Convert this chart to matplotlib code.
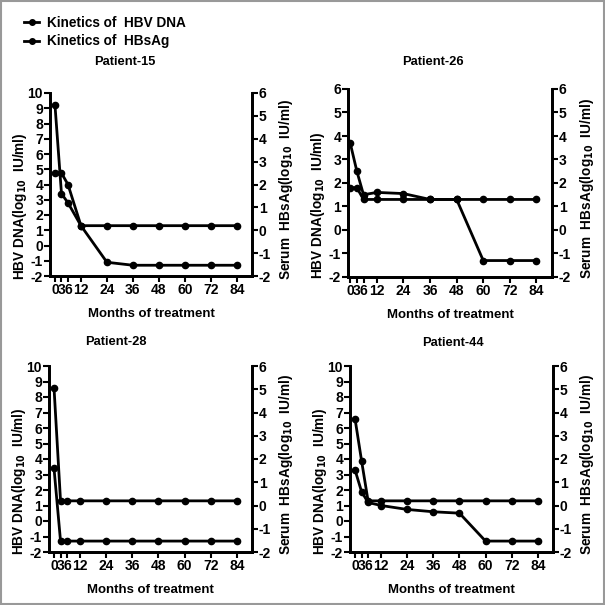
import numpy as np
import matplotlib.pyplot as plt
from matplotlib.lines import Line2D
from matplotlib.patches import Rectangle

plt.rcParams['font.family'] = ['Liberation Sans', 'DejaVu Sans']
plt.rcParams['font.weight'] = 'bold'
plt.rcParams['axes.unicode_minus'] = False

W = 605

months = [0, 3, 6, 12, 24, 36, 48, 60, 72, 84]
month_ticks = [0, 3, 6, 12, 24, 36, 48, 60, 72, 84]

# HBV DNA (left axis) and HBsAg (right axis), log10 IU/ml
patients = ['Patient-15', 'Patient-26', 'Patient-28', 'Patient-44']
dna_15 = [9.2, 3.4, 2.8, 1.3, 1.3, 1.3, 1.3, 1.3, 1.3, 1.3]
hbs_15 = [2.5, 2.5, 2.0, 0.2, -1.4, -1.53, -1.53, -1.53, -1.53, -1.53]
dna_26 = [1.8, 1.8, 1.3, 1.3, 1.3, 1.3, 1.3, 1.3, 1.3, 1.3]
hbs_26 = [3.7, 2.5, 1.5, 1.6, 1.55, 1.3, 1.3, -1.3, -1.3, -1.3]
dna_28 = [8.6, 1.3, 1.3, 1.3, 1.3, 1.3, 1.3, 1.3, 1.3, 1.3]
hbs_28 = [1.6, -1.53, -1.53, -1.53, -1.53, -1.53, -1.53, -1.53, -1.53, -1.53]
dna_44 = [6.6, 3.9, 1.3, 1.3, 1.3, 1.3, 1.3, 1.3, 1.3, 1.3]
hbs_44 = [1.53, 0.6, 0.13, 0.0, -0.17, -0.27, -0.33, -1.53, -1.53, -1.53]
dna_all = [dna_15, dna_26, dna_28, dna_44]
hbs_all = [hbs_15, hbs_26, hbs_28, hbs_44]
left_top = [10, 6, 10, 10]

# pixel boxes: left, right, top, bottom
boxes = [(50, 252, 93, 276), (348, 552, 89, 277), (49, 252, 366, 552), (350, 553, 366, 552)]
titles_xy = [(125, 62), (433, 62), (116, 342), (453, 343)]

tickfont = dict(family=['Liberation Sans Narrow', 'Liberation Sans'], weight='bold', size=10)

fig = plt.figure(figsize=(6.05, 6.05), dpi=100)
fig.patches.append(Rectangle((0.002, 0.002), 0.996, 0.996, transform=fig.transFigure,
                             fill=False, edgecolor='#999999', lw=1.5))

for i in range(4):
    l, r, t, b = boxes[i]
    ax = fig.add_axes([l / W, 1 - b / W, (r - l) / W, (b - t) / W])
    ax2 = ax.twinx()
    ax.plot(months, dna_all[i], 'o-', color='black', lw=2, ms=4.5)
    ax2.plot(months, hbs_all[i], 'o-', color='black', lw=2, ms=4.5)
    ax.set_ylim(-2, left_top[i])
    ax.set_yticks(range(-2, left_top[i] + 1))
    ax2.set_ylim(-2, 6)
    ax2.set_yticks(range(-2, 7))
    ax.set_xlim(-2.3 if i != 1 else -1, 91)
    ax.set_xticks(month_ticks)
    for a in (ax, ax2):
        a.spines['top'].set_visible(False)
        for s in ('left', 'right', 'bottom'):
            a.spines[s].set_linewidth(2)
        a.tick_params(width=1.5, length=4, pad=1)
    for lab in ax.get_xticklabels() + ax.get_yticklabels() + ax2.get_yticklabels():
        lab.set_fontproperties(tickfont)
    ax.set_ylabel('HBV DNA(log$_{\\mathbf{10}}$  IU/ml)', fontsize=9.8, fontweight='bold')
    ax.yaxis.set_label_coords(-0.105, 0.38)
    ax2.set_ylabel('Serum  HBsAg(log$_{\\mathbf{10}}$  IU/ml)', fontsize=9.8, fontweight='bold',
                   rotation=90)
    ax2.yaxis.set_label_coords(1.125, 0.47)
    ax.set_xlabel('Months of treatment', fontsize=9.5, fontweight='bold', labelpad=8)
    tx, ty = titles_xy[i]
    fig.text(tx / W, 1 - ty / W, patients[i], ha='center', va='center', fontsize=9.3, fontweight='bold')

handles = [Line2D([0], [0], color='black', lw=2, marker='o', ms=4),
           Line2D([0], [0], color='black', lw=2, marker='o', ms=4)]
fig.legend(handles, ['Kinetics of  HBV DNA', 'Kinetics of  HBsAg'], loc='upper left',
           bbox_to_anchor=(12 / W, 1 - 4 / W), frameon=False, handlelength=1.1,
           handletextpad=0.6, labelspacing=0.3, prop=dict(weight='bold', size=9.8))

fig.savefig('out.png', dpi=100)
